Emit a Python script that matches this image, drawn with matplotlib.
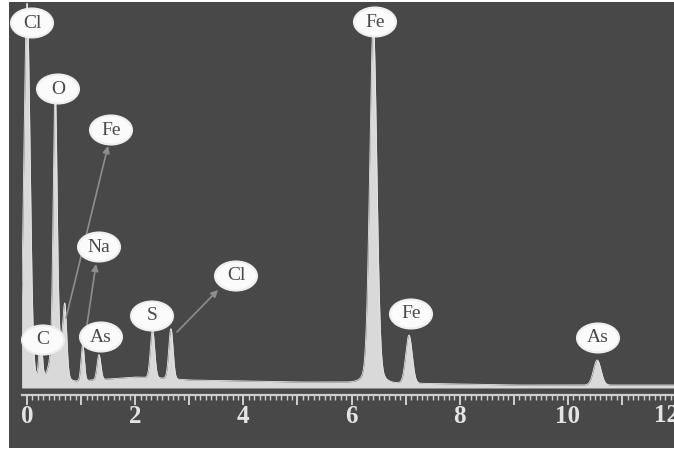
import numpy as np
import matplotlib
matplotlib.use("Agg")
import matplotlib.pyplot as plt
from matplotlib.patches import Ellipse
from matplotlib.ticker import MultipleLocator, FuncFormatter

# ---- data ----
peak_energy = [0.00, 0.25, 0.52, 0.55, 0.70, 1.03, 1.33, 2.32, 2.66, 6.40, 6.40, 7.06, 10.54]   # keV
peak_height = [375, 45, 250, 45, 62, 36, 25, 48, 50, 345, 14, 48, 25]                            # counts (a.u.)
peak_sigma = [0.057, 0.03, 0.035, 0.10, 0.035, 0.03, 0.035, 0.04, 0.04, 0.065, 0.15, 0.06, 0.07]  # keV

cont_energy = [-0.1, 0.5, 0.9, 1.5, 2.0, 2.5, 3.0, 4.0, 5.0, 6.0, 7.0, 8.0, 9.0, 10.0, 11.0, 12.1]
cont_level = [10, 9, 7, 9, 11, 10, 8, 7, 6, 6, 5, 4, 3, 3, 3, 3]

label_text = ["Cl", "O", "Fe", "Fe", "Na", "C", "As", "S", "Cl", "Fe", "As"]

# ---- build spectrum ----
E = np.linspace(-0.1, 12.1, 6000)
counts = np.interp(E, cont_energy, cont_level)
for mu, h, s in zip(peak_energy, peak_height, peak_sigma):
    counts = counts + h * np.exp(-0.5 * ((E - mu) / s) ** 2)

W, H = 674, 451
fig = plt.figure(figsize=(W / 100, H / 100), dpi=100, facecolor="white")

BG = "#484848"
bg_ax = fig.add_axes([9 / W, (H - 448) / H, 1 - 9 / W, (448 - 2) / H], zorder=-5)
bg_ax.set_facecolor(BG)
bg_ax.set_xticks([])
bg_ax.set_yticks([])
for s in bg_ax.spines.values():
    s.set_visible(False)

px0, pscale = 27.0, 54.1
x_left, x_right = -0.0924, 12.05
ax_left_px = px0 + x_left * pscale
ax_right_px = px0 + x_right * pscale
base_py, top_py = 388.0, 2.0
ax = fig.add_axes([ax_left_px / W, (H - base_py) / H, (ax_right_px - ax_left_px) / W, (base_py - top_py) / H],
                  zorder=1)
ax.patch.set_alpha(0)
ax.set_xlim(x_left, x_right)
ax.set_ylim(0, base_py - top_py)

ax.fill_between(E, 0, counts, color="#d9d9d9", lw=0, zorder=2)
ax.plot(E, counts, color="#e6e6e6", lw=0.6, zorder=3)

for s in ["top", "right", "left"]:
    ax.spines[s].set_visible(False)
ax.spines["bottom"].set_position(("outward", 5.0))
ax.spines["bottom"].set_color("#cfcfcf")
ax.spines["bottom"].set_linewidth(1.6)
ax.set_yticks([])
ax.xaxis.set_major_locator(MultipleLocator(1))
ax.xaxis.set_minor_locator(MultipleLocator(0.1))


def fmt(v, p):
    n = int(round(v))
    return f"{n}" if (n % 2 == 0 and n < 12) else ""


ax.xaxis.set_major_formatter(FuncFormatter(fmt))
TICK_PAD = 0.5
ax.tick_params(axis="x", which="major", direction="out", length=7, width=1.4, color="#cfcfcf",
               labelcolor="#e4e4e4", pad=TICK_PAD)
ax.tick_params(axis="x", which="minor", direction="out", length=3.5, width=1.0, color="#cfcfcf")
for t in ax.get_xticklabels():
    t.set_fontfamily("Liberation Serif")
    t.set_fontweight("bold")
    t.set_fontsize(18)

# last label "12" sits at the right edge (partly cut, as in the source image)
tr, va, ha = ax.get_xaxis_text1_transform(6.6)
ax.text(12 - 10 / pscale, 0, "12", transform=tr, va=va, ha=ha, fontsize=18, fontweight="bold",
        family="Liberation Serif", color="#e4e4e4", clip_on=False)

# ---- labels (pixel centres converted to data) ----
label_px = [(32, 23), (58, 89), (111, 130), (375, 22), (99, 247), (43, 340),
            (101, 337), (152, 316), (236, 276), (411, 314), (598, 338)]


def to_data(px, py):
    return (px - px0) / pscale, base_py - py


for txt, (px, py) in zip(label_text, label_px):
    x, y = to_data(px, py)
    e = Ellipse((x, y), 42 / pscale, 29, facecolor="#fbfbfb", edgecolor="#eeeeee", lw=1.5, zorder=6,
                clip_on=False)
    ax.add_patch(e)
    ax.text(x, y, txt, ha="center", va="center", fontsize=14, family="Liberation Serif",
            color="#4a4a4a", zorder=7, clip_on=False)

arrows = [((66, 318), (108, 146)), ((84, 345), (96, 264)), ((177, 332), (218, 290))]
for (sx, sy), (ex, ey) in arrows:
    ax.annotate("", xy=to_data(ex, ey), xytext=to_data(sx, sy),
                arrowprops=dict(arrowstyle="-|>", color="#8e8e8e", lw=1.2, mutation_scale=10,
                                shrinkA=0, shrinkB=0), zorder=5)

fig.savefig("out.png", dpi=100, facecolor="white")
